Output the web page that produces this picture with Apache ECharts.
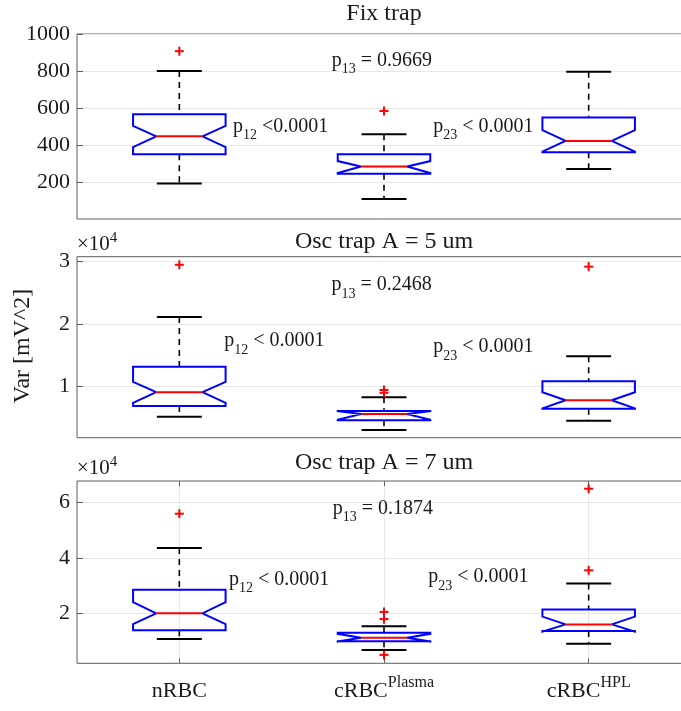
<!DOCTYPE html>
<html><head><meta charset="utf-8">
<script src="https://cdn.jsdelivr.net/npm/echarts@6/dist/echarts.min.js"></script>
<style>html,body{margin:0;padding:0;background:#fff}#c{width:681px;height:711px}</style>
</head><body><div id="c"></div>
<script>
// ---------------- data ----------------
const categories = ['nRBC', 'cRBC^Plasma', 'cRBC^HPL'];
const panelTitles = ['Fix trap', 'Osc trap A = 5 um', 'Osc trap A = 7 um'];
// box stats per group: [lowerWhisker, Q1, notchLow, median, notchHigh, Q3, upperWhisker]
const fixBoxes = [
  [192, 350, 388, 447, 503, 566, 800],
  [108, 244, 248, 284, 313, 350, 458],
  [270, 361, 364, 422, 480, 548, 796]
];
const fixOutliers = [[1, 907], [2, 584]];
const osc5Boxes = [
  [5050, 6800, 7300, 9000, 10650, 13100, 21100],
  [2900, 4500, 4550, 5480, 5950, 5970, 8200],
  [4400, 6350, 6400, 7700, 9000, 10760, 14800]
];
const osc5Outliers = [[1, 29500], [2, 9350], [2, 8900], [3, 29200]];
const osc7Boxes = [
  [10700, 13900, 16100, 20000, 24000, 28500, 43500],
  [6800, 9900, 9850, 11200, 12600, 13000, 15300],
  [9000, 13600, 13400, 16000, 18800, 21400, 30700]
];
const osc7Outliers = [[1, 55900], [2, 20500], [2, 17900], [2, 5000], [3, 64900], [3, 35500]];
const fixTicks = [200, 400, 600, 800, 1000];
const osc5Ticks = [10000, 20000, 30000];
const osc7Ticks = [20000, 40000, 60000];
const fixRange = [0, 1000];
const osc5Range = [1680, 30800];
const osc7Range = [1980, 67680];
const pValues = [
  ['p', '12', ' <0.0001', 'p', '13', ' = 0.9669', 'p', '23', ' < 0.0001'],
  ['p', '12', ' < 0.0001', 'p', '13', ' = 0.2468', 'p', '23', ' < 0.0001'],
  ['p', '12', ' < 0.0001', 'p', '13', ' = 0.1874', 'p', '23', ' < 0.0001']
];

// ---------------- layout / style ----------------
const FONT = '"Liberation Serif", "DejaVu Serif", serif';
const TXT = '#1a1a1a';
const AX = '#5c5c5c';
const GRIDC = '#e8e8e8';
const grids = [
  {top: 34, height: 185},
  {top: 256.7, height: 181},
  {top: 481, height: 182.3}
];
const panels = [
  {boxes: fixBoxes, outliers: fixOutliers, ticks: fixTicks, range: fixRange, scale: 1},
  {boxes: osc5Boxes, outliers: osc5Outliers, ticks: osc5Ticks, range: osc5Range, scale: 10000},
  {boxes: osc7Boxes, outliers: osc7Outliers, ticks: osc7Ticks, range: osc7Range, scale: 10000}
];

function boxRender(params, api) {
  const x = api.value(0);
  const lw = api.value(1), q1 = api.value(2), nl = api.value(3), med = api.value(4),
        nh = api.value(5), q3 = api.value(6), uw = api.value(7);
  const band = api.size([1, 0])[0];
  const hw = band * 0.226, nw = hw * 0.5, cw = hw * 0.486;
  const cx = api.coord([x, med])[0];
  const y = v => api.coord([x, v])[1];
  const poly = [
    [cx - hw, y(q1)], [cx - hw, y(nl)], [cx - nw, y(med)], [cx - hw, y(nh)], [cx - hw, y(q3)],
    [cx + hw, y(q3)], [cx + hw, y(nh)], [cx + nw, y(med)], [cx + hw, y(nl)], [cx + hw, y(q1)]
  ];
  const dash = {stroke: '#000', lineWidth: 1.6, lineDash: [6, 5]};
  const solid = {stroke: '#000', lineWidth: 2};
  return {
    type: 'group',
    children: [
      {type: 'line', shape: {x1: cx, y1: y(uw), x2: cx, y2: y(q3)}, style: dash},
      {type: 'line', shape: {x1: cx, y1: y(q1), x2: cx, y2: y(lw)}, style: dash},
      {type: 'line', shape: {x1: cx - cw, y1: y(uw), x2: cx + cw, y2: y(uw)}, style: solid},
      {type: 'line', shape: {x1: cx - cw, y1: y(lw), x2: cx + cw, y2: y(lw)}, style: solid},
      {type: 'polygon', shape: {points: poly}, style: {fill: 'none', stroke: '#0000ff', lineWidth: 2, lineJoin: 'miter', miterLimit: 2}},
      {type: 'line', shape: {x1: cx - nw, y1: y(med), x2: cx + nw, y2: y(med)}, style: {stroke: '#ff0000', lineWidth: 2}}
    ]
  };
}
function outlierRender(params, api) {
  const p = api.coord([api.value(0), api.value(1)]);
  const s = 4.5;
  const st = {stroke: '#ff0000', lineWidth: 2};
  return {type: 'group', children: [
    {type: 'line', shape: {x1: p[0] - s, y1: p[1], x2: p[0] + s, y2: p[1]}, style: st},
    {type: 'line', shape: {x1: p[0], y1: p[1] - s, x2: p[0], y2: p[1] + s}, style: st}
  ]};
}

const xLabelRich = {
  m: {fontFamily: FONT, fontSize: 22, lineHeight: 22, color: TXT, verticalAlign: 'middle'},
  p: {fontFamily: FONT, fontSize: 16, lineHeight: 16, color: TXT, verticalAlign: 'middle', padding: [0, 0, 18, 0]}
};
function catLabel(v) {
  const c = categories[Math.round(v) - 1];
  if (!c) return '';
  const parts = c.split('^');
  return parts[1] ? '{m|' + parts[0] + '}{p|' + parts[1] + '}' : '{m|' + parts[0] + '}';
}

const option = {
  animation: false,
  backgroundColor: '#fff',
  grid: grids.map(g => ({left: 77, width: 614, top: g.top, height: g.height, show: true,
    outerBoundsMode: 'none', containLabel: false,
    borderColor: AX, borderWidth: 1, backgroundColor: 'transparent'})),
  xAxis: [],
  yAxis: [],
  series: [],
  graphic: []
};

panels.forEach((pn, i) => {
  const isLast = i === 2;
  option.xAxis.push({
    gridIndex: i, type: 'value', min: 0.5, max: 3.5,
    axisLine: {show: false},
    axisTick: {show: isLast, inside: true, length: 5, customValues: [1, 2, 3], lineStyle: {color: AX}},
    axisLabel: {show: isLast, customValues: [1, 2, 3], formatter: catLabel, rich: xLabelRich, margin: 17, color: TXT},
    splitLine: {show: isLast, lineStyle: {color: GRIDC, width: 1}}
  });
  option.yAxis.push({
    gridIndex: i, type: 'value', min: pn.range[0], max: pn.range[1],
    axisLine: {show: false},
    axisTick: {show: true, inside: true, length: 6, customValues: pn.ticks, lineStyle: {color: AX}},
    axisLabel: {customValues: pn.ticks, formatter: v => String(v / pn.scale), fontFamily: FONT, fontSize: 22, color: TXT, margin: 7},
    splitLine: {show: true, lineStyle: {color: GRIDC, width: 1}}
  });
  option.series.push({
    type: 'custom', xAxisIndex: i, yAxisIndex: i, renderItem: boxRender,
    encode: {x: 0, y: [1, 2, 3, 4, 5, 6, 7]},
    data: pn.boxes.map((b, k) => [k + 1].concat(b)), z: 3
  });
  option.series.push({
    type: 'custom', xAxisIndex: i, yAxisIndex: i, renderItem: outlierRender,
    encode: {x: 0, y: 1},
    data: pn.outliers, z: 4
  });
});
// top mirrored ticks for bottom panel
option.xAxis.push({
  gridIndex: 2, type: 'value', position: 'top', min: 0.5, max: 3.5,
  axisLine: {show: false},
  axisTick: {show: true, inside: true, length: 5, customValues: [1, 2, 3], lineStyle: {color: AX}},
  axisLabel: {show: false}, splitLine: {show: false}
});

// titles
const titleTops = [1.5, 230, 451];
panelTitles.forEach((t, i) => {
  option.graphic.push({type: 'text', x: 384, y: titleTops[i], z: 10,
    style: {text: t, fontFamily: FONT, fontSize: 24, fill: TXT, align: 'center', verticalAlign: 'top'}});
});
// x10^4 multipliers
const expRich = {
  m: {fontFamily: FONT, fontSize: 21, lineHeight: 21, fill: TXT, verticalAlign: 'middle'},
  s: {fontFamily: FONT, fontSize: 15, lineHeight: 15, fill: TXT, verticalAlign: 'middle', padding: [0, 0, 12, 0]}
};
[234, 458].forEach(top => {
  option.graphic.push({type: 'text', x: 77, y: top, z: 10,
    style: {text: '{m|\u00d710}{s|4}', rich: expRich, align: 'left', verticalAlign: 'top'}});
});
// y name
option.graphic.push({type: 'text', x: 23, y: 346, rotation: Math.PI / 2, z: 10,
  style: {text: 'Var [mV^2]', fontFamily: FONT, fontSize: 24, fill: TXT, align: 'center', verticalAlign: 'middle'}});
// p-value annotations
const pRich = {
  m: {fontFamily: FONT, fontSize: 20, lineHeight: 20, fill: TXT, verticalAlign: 'middle'},
  s: {fontFamily: FONT, fontSize: 14, lineHeight: 14, fill: TXT, verticalAlign: 'middle', padding: [18, 0, 0, 0]}
};
const pPos = [
  [[233, 116.5], [331.7, 50.5], [433.3, 116.7]],
  [[224.3, 331], [331.5, 275], [433.3, 337]],
  [[229, 569.5], [332.7, 498.5], [428.3, 567]]
];
pValues.forEach((row, i) => {
  for (let k = 0; k < 3; k++) {
    const txt = '{m|' + row[k * 3] + '}{s|' + row[k * 3 + 1] + '}{m|' + row[k * 3 + 2] + '}';
    option.graphic.push({type: 'text', x: pPos[i][k][0], y: pPos[i][k][1], z: 10,
      style: {text: txt, rich: pRich, align: 'left', verticalAlign: 'top'}});
  }
});

const chart = echarts.init(document.getElementById('c'), null, {renderer: 'canvas'});
chart.setOption(option);
</script>
</body></html>
